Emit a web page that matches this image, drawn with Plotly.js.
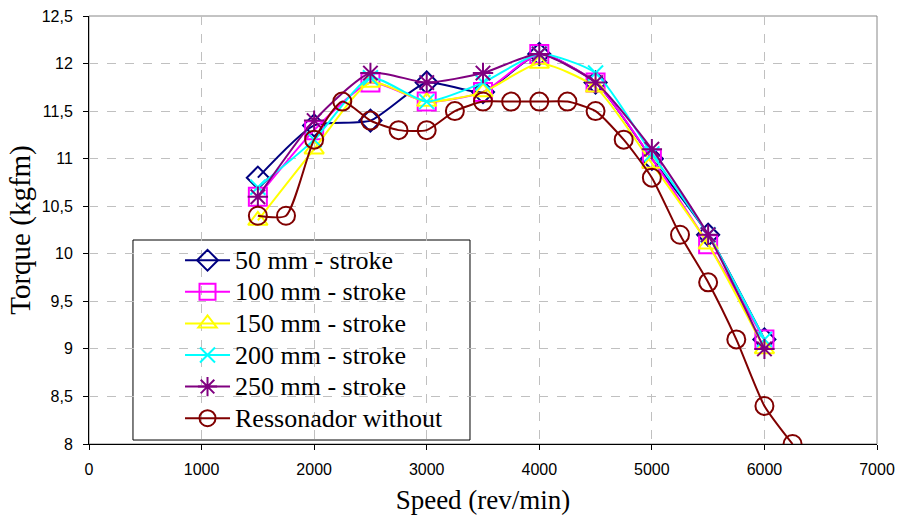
<!DOCTYPE html>
<html><head><meta charset="utf-8">
<script src="https://cdn.plot.ly/plotly-3.0.1.min.js"></script>
<style>body{margin:0;background:#fff}#c{width:898px;height:515px}</style>
</head><body><div id="c"></div>
<script>
const speed = [1500, 2000, 2500, 3000, 3500, 4000, 4500, 5000, 5500, 6000];
const s50  = [10.8, 11.35, 11.4, 11.8, 11.7, 12.1, 11.8, 11.0, 10.2, 9.1];
const s100 = [10.6, 11.3, 11.8, 11.6, 11.7, 12.1, 11.8, 11.0, 10.1, 9.1];
const s150 = [10.35, 11.1, 11.8, 11.6, 11.7, 12.0, 11.75, 10.95, 10.1, 9.0];
const s200 = [10.7, 11.2, 11.85, 11.6, 11.8, 12.1, 11.9, 11.05, 10.2, 9.1];
const s250 = [10.6, 11.4, 11.9, 11.8, 11.9, 12.1, 11.8, 11.1, 10.2, 9.0];
const speedW = [1500, 1750, 2000, 2250, 2500, 2750, 3000, 3250, 3500, 3750, 4000, 4250, 4500, 4750, 5000, 5250, 5500, 5750, 6000, 6250];
const without = [10.4, 10.4, 11.2, 11.6, 11.4, 11.3, 11.3, 11.5, 11.6, 11.6, 11.6, 11.6, 11.5, 11.2, 10.8, 10.2, 9.7, 9.1, 8.4, 8.0];
const names = ['50 mm - stroke','100 mm - stroke','150 mm - stroke','200 mm - stroke','250 mm - stroke','Ressonador without'];

function tr(x, y, name, color, symbol, size){
  return {x:x, y:y, name:'<span style="font-size:26px">' + name + '</span>', type:'scatter', mode:'lines+markers',
    line:{color:color, width:2, shape:'spline', smoothing:0.6},
    marker:{symbol:symbol, size:size, color:color, line:{color:color, width:2}}};
}
const data = [
  tr(speed, s50, names[0], '#000080', 'diamond-open', 17),
  tr(speed, s100, names[1], '#ff00ff', 'square-open', 18),
  tr(speed, s150, names[2], '#ffff00', 'triangle-up-open', 17),
  tr(speed, s200, names[3], '#00ffff', 'x-thin-open', 15),
  tr(speed, s250, names[4], '#800080', 'asterisk-open', 17),
  tr(speedW, without, names[5], '#800000', 'circle-open', 18)
];
const serif = 'Liberation Serif, Times New Roman, serif';
const sans = 'Liberation Sans, Arial, sans-serif';
const layout = {
  width:898, height:515, margin:{l:89, r:21, t:16, b:71},
  paper_bgcolor:'#fff', plot_bgcolor:'#fff', separators:', ',
  showlegend:true,
  legend:{x:0.1155, y:0.478, xanchor:'left', yanchor:'top', bgcolor:'rgba(0,0,0,0)', borderwidth:0,
    font:{family:serif, size:22, color:'#000'}, tracegroupgap:0, itemwidth:45},
  xaxis:{range:[0,7000], dtick:1000, tick0:0, showgrid:true, gridcolor:'#c0c0c0', griddash:'dash', gridwidth:1,
    showline:true, linecolor:'#000', linewidth:1, ticks:'outside', ticklen:5, tickcolor:'#000', zeroline:false,
    ticklabelstandoff:6,
    tickfont:{family:sans, size:16, color:'#000'},
    title:{text:'Speed (rev/min)', font:{family:serif, size:27, color:'#000'}, standoff:12}},
  yaxis:{range:[8,12.5], dtick:0.5, tick0:8, showgrid:true, gridcolor:'#c0c0c0', griddash:'dash', gridwidth:1,
    showline:true, linecolor:'#000', linewidth:1, ticks:'outside', ticklen:5, tickcolor:'#000', zeroline:false,
    ticklabelstandoff:7,
    tickfont:{family:sans, size:16, color:'#000'},
    title:{text:'Torque (kgfm)', font:{family:serif, size:29, color:'#000'}, standoff:2}},
  shapes:[
    {type:'rect', xref:'paper', yref:'paper', x0:0, x1:1, y0:0, y1:1, line:{color:'#888', width:1}, layer:'below'},
    {type:'rect', xref:'paper', yref:'paper', x0:0.0558, x1:0.4835, y0:0.0093, y1:0.4766, line:{color:'#000', width:1}, fillcolor:'#fff', layer:'below'}
  ]
};
Plotly.newPlot('c', data, layout, {displayModeBar:false});
</script></body></html>
